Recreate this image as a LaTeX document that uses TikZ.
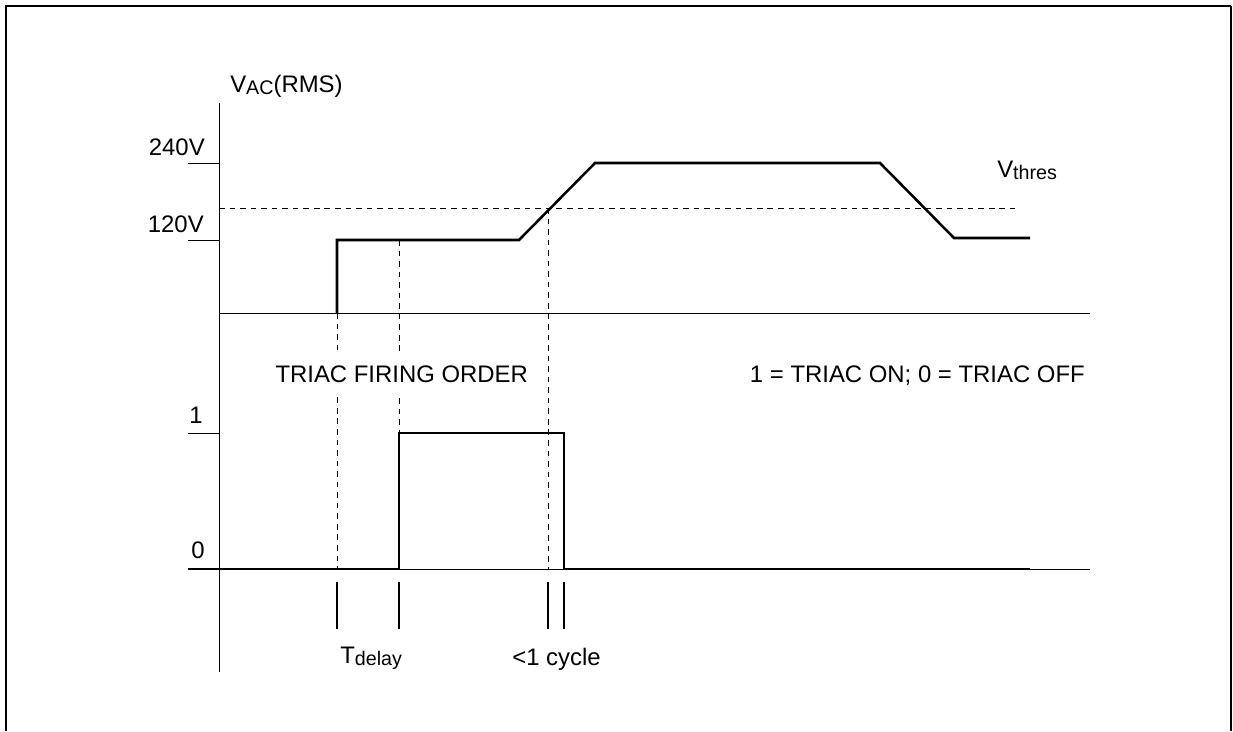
\documentclass[tikz,border=0pt]{standalone}
\usepackage{fontspec}
\setmainfont{Liberation Sans}
\usepackage{tikz}
\usetikzlibrary{positioning, calc}
\newcommand{\lowsub}[1]{\raisebox{-2pt}{\fontsize{14}{16}\selectfont #1}}

\begin{document}
\begin{tikzpicture}[x=0.025cm, y=-0.025cm,
    lbl/.style={font=\fontsize{17}{20}\selectfont, inner sep=0pt},
    wave/.style={line width=1.8pt, line join=miter},
    axis/.style={line width=0.7pt},
    guide/.style={line width=0.6pt, dash pattern=on 4pt off 3.5pt},
    tickmark/.style={line width=1.5pt}
]
    \useasboundingbox (0,0) rectangle (1233,731);

    % Frame (open at the bottom)
    \draw[line width=2pt] (6,731) -- (6,6) -- (1231,6);
    \draw[line width=0.8pt] (1231,6) -- (1231,731);

    % Axes
    \coordinate (ytop) at (219,103);
    \coordinate (ybot) at (219,672);
    \coordinate (up0) at (219,313);
    \coordinate (upend) at (1090,313);
    \coordinate (lo0) at (219,569);
    \coordinate (loend) at (1090,569);
    \draw[axis] (ytop) -- (ybot);
    \draw[axis] (up0) -- (upend);
    \draw[axis] (lo0) -- (loend);

    % Level ticks
    \foreach \y in {163,240,433} {
        \draw[axis] (188,\y) -- (219,\y);
    }

    % Guide lines
    \coordinate (th0) at (219,208);
    \coordinate (thend) at (1015,208);
    \draw[guide] (th0) -- (thend);
    \draw[guide] (337,313) -- (337,569);
    \draw[guide] (399,240) -- (399,433);
    \draw[guide] (548,208) -- (548,569);

    % Labels
    \node[lbl, anchor=base west] (vac) at (230,92) {V\lowsub{AC}(RMS)};
    \node[lbl, anchor=base east] (v240) at (205,155) {240V};
    \node[lbl, anchor=base east] (v120) at (204,232) {120V};
    \node[lbl, anchor=base east] (one) at (203,423) {1};
    \node[lbl, anchor=base east] (zero) at (205,558) {0};
    \node[lbl, anchor=base west] (vthres) at (997,177) {V\lowsub{thres}};
    \node[lbl, anchor=base west, fill=white, inner xsep=3pt, inner ysep=10pt] (order) at (271,382) {TRIAC FIRING ORDER};
    \node[lbl, anchor=base east] (legend) at (1085,382) {1 = TRIAC ON; 0 = TRIAC OFF};
    \node[lbl, anchor=base west] (tdelay) at (340,663) {T\lowsub{delay}};
    \node[lbl, anchor=base west] (cycle) at (512,665) {<1 cycle};

    % Mains voltage
    \coordinate (on) at (337,313);
    \coordinate (lowA) at (337,240);
    \coordinate (lowB) at (519,240);
    \coordinate (highA) at (595,163);
    \coordinate (highB) at (880,163);
    \coordinate (lowC) at (954,238);
    \coordinate (lowD) at (1030,238);
    \draw[wave] (on) -- (lowA) -- (lowB) -- (highA) -- (highB) -- (lowC) -- (lowD);

    % Firing order
    \coordinate (p0) at (188,569);
    \coordinate (p1) at (399,569);
    \coordinate (p2) at (399,433);
    \coordinate (p3) at (564,433);
    \coordinate (p4) at (564,569);
    \coordinate (p5) at (1030,569);
    \draw[wave] (p0) -- (p1) -- (p2) -- (p3) -- (p4) -- (p5);

    % Time marks
    \foreach \x in {337,399,548,564} {
        \draw[tickmark] (\x,582) -- (\x,629);
    }
\end{tikzpicture}
\end{document}
